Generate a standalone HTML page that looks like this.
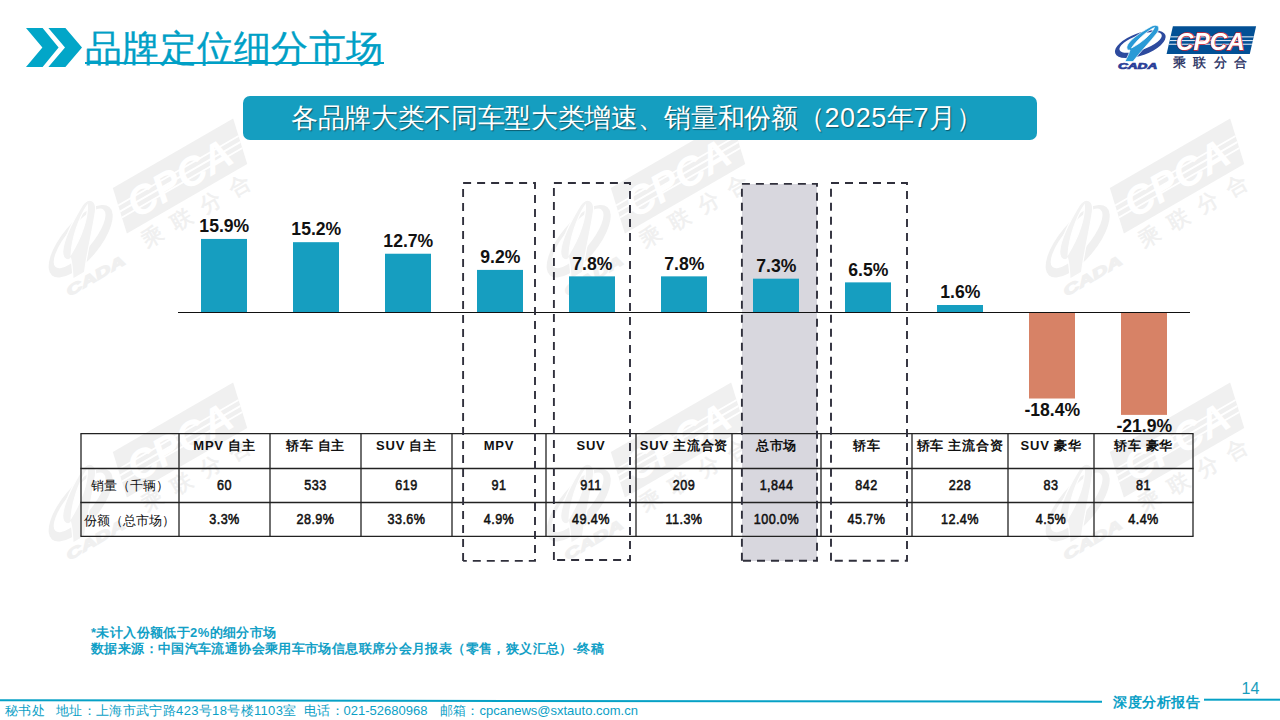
<!DOCTYPE html>
<html><head><meta charset="utf-8">
<style>
*{margin:0;padding:0;box-sizing:border-box}
html,body{width:1280px;height:720px;overflow:hidden;background:#fff}
body{position:relative;font-family:"Liberation Sans",sans-serif}
.abs{position:absolute}
#title{left:85px;top:23.5px;font-size:37px;line-height:50px;color:#00a0c6;-webkit-text-stroke:0.3px #00a0c6;white-space:nowrap;letter-spacing:0.25px}
#title-ul{left:85px;top:62px;width:299px;height:2px;background:#00a0c6}
#banner{left:243px;top:96px;width:794px;height:43.7px;border-radius:7px;background:#159ec0}
#banner-t{left:291px;top:97px;letter-spacing:-0.33px;height:43px;line-height:43px;font-size:27px;color:#fff;white-space:nowrap;text-shadow:1px 1px 1px rgba(0,0,0,.45)}
.bar{position:absolute;width:46px;background:#179dbd}
.neg{background:#d78266}
.lbl{position:absolute;width:92px;text-align:center;font-weight:bold;font-size:17px;line-height:17px;color:#111;white-space:nowrap}
#axis{left:178px;top:311px;width:1012px;height:1px;background:#111}
.dbox{position:absolute;border:2px dashed #3b3b4a}
table{position:absolute;left:81px;top:433px;border-collapse:collapse;table-layout:fixed}
td{border:1px solid #222;text-align:center;font-size:13px;color:#111;padding:0;white-space:nowrap}
tr.h td{height:35px;font-weight:bold;vertical-align:top;padding-top:5px;font-size:13.5px}
tr.r td{height:34px;font-weight:bold}
tr td:first-child{font-weight:normal}
.fn{left:91px;font-size:13px;letter-spacing:0.38px;font-weight:bold;color:#12a0c6;white-space:nowrap;line-height:16px}
.lat{letter-spacing:0}
.dn{font-size:14px;font-weight:normal;letter-spacing:0.5px;stroke:#111;stroke-width:0.55px}
.foot{top:701px;font-size:13px;letter-spacing:0.45px;color:#0ba0c6;white-space:nowrap;line-height:20px}
</style></head><body>

<svg class="abs" style="left:0;top:0" width="1280" height="720">
<defs>
<clipPath id="pclip"><polygon points="1172.9,26.25 1256.1,26.25 1249.8,54 1166.6,54"/></clipPath>
<g id="logo">
<ellipse cx="1140.3" cy="44.2" rx="26.7" ry="11.2" transform="rotate(-20 1140.3 44.2)" style="fill:var(--el)"/>
<ellipse cx="1140.6" cy="42.4" rx="22.4" ry="7.6" transform="rotate(-20 1140.6 42.4)" style="fill:var(--hole)"/>
<path fill-rule="evenodd" d="M1125,61.5 L1133,61.5 C1140,52 1150,42 1157,33 C1161,27.5 1158,23.5 1152,26 C1143,31 1132,38 1128,44 C1125.5,48 1127.5,51 1130,50 C1129,54 1127,57.5 1125,61.5 Z M1131.5,48 C1136,41 1146,31.5 1154.5,27.5 C1151.5,34 1142,42.5 1131.5,48 Z" style="fill:var(--ph);stroke:var(--hole);stroke-width:0.7"/>
<text x="1118" y="69.5" transform="translate(1118 0) scale(1.62 1) translate(-1118 0)" font-family="Liberation Sans, sans-serif" font-weight="bold" font-style="italic" font-size="8.4" style="fill:var(--cd);stroke:var(--cd);stroke-width:0.7">CADA</text>
<polygon points="1172.9,26.25 1256.1,26.25 1249.8,54 1166.6,54" style="fill:var(--pb)"/>
<g clip-path="url(#pclip)" style="fill:var(--st)">
<rect x="1160" y="36.3" width="100" height="1.1"/>
<rect x="1160" y="40" width="100" height="1.1"/>
<rect x="1160" y="43.7" width="100" height="1.1"/>
</g>
<text x="1176" y="49.5" font-family="Liberation Sans, sans-serif" font-weight="bold" font-style="italic" font-size="24.3" style="fill:var(--tf);stroke:var(--ts);stroke-width:1.3;paint-order:stroke">CPCA</text>
<text x="1172.5" y="67.3" font-family="Liberation Sans, sans-serif" font-size="12.6" letter-spacing="7.6" style="fill:var(--cn);stroke:var(--cns);stroke-width:0.35">乘联分合</text>
</g>
</defs>
<g style="--el:#f0f0f0;--hole:#fff;--ph:#f2f2f2;--cd:#f0f0f0;--pb:#f0f0f0;--st:#fff;--tf:#fff;--ts:none;--cn:#f0f0f0;--cns:#f0f0f0">
<use href="#logo" transform="translate(180 176) rotate(-30) scale(1.67) translate(-1211.35 -40.1)"/>
<use href="#logo" transform="translate(678 176) rotate(-30) scale(1.67) translate(-1211.35 -40.1)"/>
<use href="#logo" transform="translate(1177 176) rotate(-30) scale(1.67) translate(-1211.35 -40.1)"/>
<use href="#logo" transform="translate(180 440) rotate(-30) scale(1.67) translate(-1211.35 -40.1)"/>
<use href="#logo" transform="translate(678 440) rotate(-30) scale(1.67) translate(-1211.35 -40.1)"/>
<use href="#logo" transform="translate(1177 440) rotate(-30) scale(1.67) translate(-1211.35 -40.1)"/>
</g>
<use href="#logo" style="--el:#2d4a9e;--hole:#fff;--ph:#2a9ad6;--cd:#2b3f98;--pb:#025095;--st:#d6e4f2;--tf:#fff;--ts:#d4252f;--cn:#1d2a5c;--cns:#1d2a5c"/>
</svg>

<!-- chevrons -->
<svg class="abs" style="left:0;top:0" width="100" height="80">
<polygon points="26,28 42.6,28 58.6,47.4 42.6,67 26,67 42.4,47.4" fill="#02a6c8"/>
<polygon points="48.4,28 65.4,28 82,47.4 65.4,67 48.4,67 65,47.4" fill="#02a6c8"/>
</svg>
<div id="title" class="abs">品牌定位细分市场</div>
<div id="title-ul" class="abs"></div>

<div id="banner" class="abs"></div>
<div id="banner-t" class="abs">各品牌大类不同车型大类增速、销量和份额（<span style="letter-spacing:0.6px">2025</span>年<span style="letter-spacing:0.6px">7</span>月）</div>

<!-- gray box -->
<div class="abs" style="left:741.9px;top:183.9px;width:75.1px;height:376.9px;background:#d8d7de"></div>

<!-- bars -->
<svg class="abs" style="left:0;top:0" width="1280" height="720">
<g fill="#169ec0">
<rect x="201" y="238.94" width="46" height="73.56"/>
<rect x="293" y="242.18" width="46" height="70.32"/>
<rect x="385" y="253.73" width="46" height="58.77"/>
<rect x="477" y="269.90" width="46" height="42.60"/>
<rect x="569" y="276.36" width="46" height="36.14"/>
<rect x="661" y="276.36" width="46" height="36.14"/>
<rect x="753" y="278.67" width="46" height="33.83"/>
<rect x="845" y="282.37" width="46" height="30.13"/>
<rect x="937" y="305.01" width="46" height="7.49"/>
</g>
<g fill="#d78266">
<rect x="1029" y="312" width="46" height="86.51"/>
<rect x="1121" y="312" width="46" height="102.89"/>
</g>
<rect x="178" y="312" width="1012" height="1" fill="#111"/>
<g font-family="Liberation Sans, sans-serif" font-weight="bold" font-size="17.6" text-anchor="middle" fill="#111">
<text x="224.3" y="232.24">15.9%</text>
<text x="316.3" y="235.48">15.2%</text>
<text x="408.3" y="247.03">12.7%</text>
<text x="500.3" y="263.20">9.2%</text>
<text x="592.3" y="269.66">7.8%</text>
<text x="684.3" y="269.66">7.8%</text>
<text x="776.3" y="271.97">7.3%</text>
<text x="868.3" y="275.67">6.5%</text>
<text x="960.3" y="298.31">1.6%</text>
<text x="1052.3" y="416.1">-18.4%</text>
<text x="1144.3" y="431.9">-21.9%</text>
</g>
</svg>

<svg class="abs" style="left:0;top:0" width="1280" height="720">
<g stroke="#222" stroke-width="1.3">
<line x1="80.4" y1="433.7" x2="1193.6" y2="433.7"/>
<line x1="80.4" y1="468.5" x2="1193.6" y2="468.5"/>
<line x1="80.4" y1="502.5" x2="1193.6" y2="502.5"/>
<line x1="80.4" y1="536.3" x2="1193.6" y2="536.3"/>
<line x1="81" y1="433.7" x2="81" y2="536.3"/>
<line x1="179" y1="433.7" x2="179" y2="536.3"/>
<line x1="270" y1="433.7" x2="270" y2="536.3"/>
<line x1="361" y1="433.7" x2="361" y2="536.3"/>
<line x1="452" y1="433.7" x2="452" y2="536.3"/>
<line x1="546" y1="433.7" x2="546" y2="536.3"/>
<line x1="636" y1="433.7" x2="636" y2="536.3"/>
<line x1="732" y1="433.7" x2="732" y2="536.3"/>
<line x1="821" y1="433.7" x2="821" y2="536.3"/>
<line x1="912" y1="433.7" x2="912" y2="536.3"/>
<line x1="1008" y1="433.7" x2="1008" y2="536.3"/>
<line x1="1094" y1="433.7" x2="1094" y2="536.3"/>
<line x1="1193" y1="433.7" x2="1193" y2="536.3"/>
</g>
<g font-family="Liberation Sans, sans-serif" text-anchor="middle" fill="#111">
<text x="129.8" y="490.3" font-size="13">销量（千辆）</text>
<text x="129.8" y="524.6" font-size="13">份额（总市场）</text>
<text x="224.5" y="449.6" font-weight="bold" font-size="13" letter-spacing="0.75">MPV 自主</text>
<text x="224.5" y="490" transform="translate(224.5 0) scale(0.9 1) translate(-224.5 0)" class="dn">60</text>
<text x="224.5" y="524.5" transform="translate(224.5 0) scale(0.9 1) translate(-224.5 0)" class="dn">3.3%</text>
<text x="315.5" y="449.6" font-weight="bold" font-size="13" letter-spacing="0.75">轿车 自主</text>
<text x="315.5" y="490" transform="translate(315.5 0) scale(0.9 1) translate(-315.5 0)" class="dn">533</text>
<text x="315.5" y="524.5" transform="translate(315.5 0) scale(0.9 1) translate(-315.5 0)" class="dn">28.9%</text>
<text x="406.5" y="449.6" font-weight="bold" font-size="13" letter-spacing="0.75">SUV 自主</text>
<text x="406.5" y="490" transform="translate(406.5 0) scale(0.9 1) translate(-406.5 0)" class="dn">619</text>
<text x="406.5" y="524.5" transform="translate(406.5 0) scale(0.9 1) translate(-406.5 0)" class="dn">33.6%</text>
<text x="499.0" y="449.6" font-weight="bold" font-size="13" letter-spacing="0.75">MPV</text>
<text x="499.0" y="490" transform="translate(499.0 0) scale(0.9 1) translate(-499.0 0)" class="dn">91</text>
<text x="499.0" y="524.5" transform="translate(499.0 0) scale(0.9 1) translate(-499.0 0)" class="dn">4.9%</text>
<text x="591.0" y="449.6" font-weight="bold" font-size="13" letter-spacing="0.75">SUV</text>
<text x="591.0" y="490" transform="translate(591.0 0) scale(0.9 1) translate(-591.0 0)" class="dn">911</text>
<text x="591.0" y="524.5" transform="translate(591.0 0) scale(0.9 1) translate(-591.0 0)" class="dn">49.4%</text>
<text x="684.0" y="449.6" font-weight="bold" font-size="13" letter-spacing="0.75">SUV 主流合资</text>
<text x="684.0" y="490" transform="translate(684.0 0) scale(0.9 1) translate(-684.0 0)" class="dn">209</text>
<text x="684.0" y="524.5" transform="translate(684.0 0) scale(0.9 1) translate(-684.0 0)" class="dn">11.3%</text>
<text x="776.5" y="449.6" font-weight="bold" font-size="13" letter-spacing="0.75">总市场</text>
<text x="776.5" y="490" transform="translate(776.5 0) scale(0.9 1) translate(-776.5 0)" class="dn">1,844</text>
<text x="776.5" y="524.5" transform="translate(776.5 0) scale(0.9 1) translate(-776.5 0)" class="dn">100.0%</text>
<text x="866.5" y="449.6" font-weight="bold" font-size="13" letter-spacing="0.75">轿车</text>
<text x="866.5" y="490" transform="translate(866.5 0) scale(0.9 1) translate(-866.5 0)" class="dn">842</text>
<text x="866.5" y="524.5" transform="translate(866.5 0) scale(0.9 1) translate(-866.5 0)" class="dn">45.7%</text>
<text x="960.0" y="449.6" font-weight="bold" font-size="13" letter-spacing="0.75">轿车 主流合资</text>
<text x="960.0" y="490" transform="translate(960.0 0) scale(0.9 1) translate(-960.0 0)" class="dn">228</text>
<text x="960.0" y="524.5" transform="translate(960.0 0) scale(0.9 1) translate(-960.0 0)" class="dn">12.4%</text>
<text x="1051.0" y="449.6" font-weight="bold" font-size="13" letter-spacing="0.75">SUV 豪华</text>
<text x="1051.0" y="490" transform="translate(1051.0 0) scale(0.9 1) translate(-1051.0 0)" class="dn">83</text>
<text x="1051.0" y="524.5" transform="translate(1051.0 0) scale(0.9 1) translate(-1051.0 0)" class="dn">4.5%</text>
<text x="1143.5" y="449.6" font-weight="bold" font-size="13" letter-spacing="0.75">轿车 豪华</text>
<text x="1143.5" y="490" transform="translate(1143.5 0) scale(0.9 1) translate(-1143.5 0)" class="dn">81</text>
<text x="1143.5" y="524.5" transform="translate(1143.5 0) scale(0.9 1) translate(-1143.5 0)" class="dn">4.4%</text>
</g>
<g fill="none" stroke="#30303c" stroke-width="1.9" stroke-dasharray="8,6">
<path d="M463.1,183 H535 V560.9 H463.1"/><path d="M463.1,560.9 V183"/>
<path d="M553.9,183 H630 V560 H553.9"/><path d="M553.9,560 V183"/>
<path d="M741.9,183.9 H817 V560.8 H741.9"/><path d="M741.9,560.8 V183.9"/>
<path d="M831,183 H907 V560.8 H831"/><path d="M831,560.8 V183"/>
</g></svg>

<div class="abs fn" style="top:625px">*未计入份额低于2%的细分市场</div>
<div class="abs fn" style="top:641px">数据来源：中国汽车流通协会乘用车市场信息联席分会月报表（零售，狭义汇总）-终稿</div>
<svg class="abs" style="left:0;top:0" width="1280" height="720">
<line x1="0" y1="700.2" x2="1102" y2="701.7" stroke="#06a1c6" stroke-width="2"/>
<rect x="1204" y="698.7" width="76" height="2" fill="#06a1c6"/>
</svg>
<div class="abs foot" style="left:5px">秘书处</div>
<div class="abs foot" style="left:56px;letter-spacing:0.34px">地址：上海市武宁路423号18号楼1103室</div>
<div class="abs foot" style="left:304px">电话：<span class="lat" style="position:absolute;left:39.5px">021-52680968</span></div>
<div class="abs foot" style="left:439.5px">邮箱：<span class="lat" style="position:absolute;left:40px">cpcanews@sxtauto.com.cn</span></div>
<div class="abs" style="left:1113px;top:693px;font-family:'Liberation Serif',serif;font-weight:bold;font-size:14px;letter-spacing:0.6px;line-height:20px;color:#0aa0c6;white-space:nowrap">深度分析报告</div>
<div class="abs" style="left:1241.5px;top:679px;font-size:16px;line-height:20px;color:#179dbd">14</div>
</body></html>
